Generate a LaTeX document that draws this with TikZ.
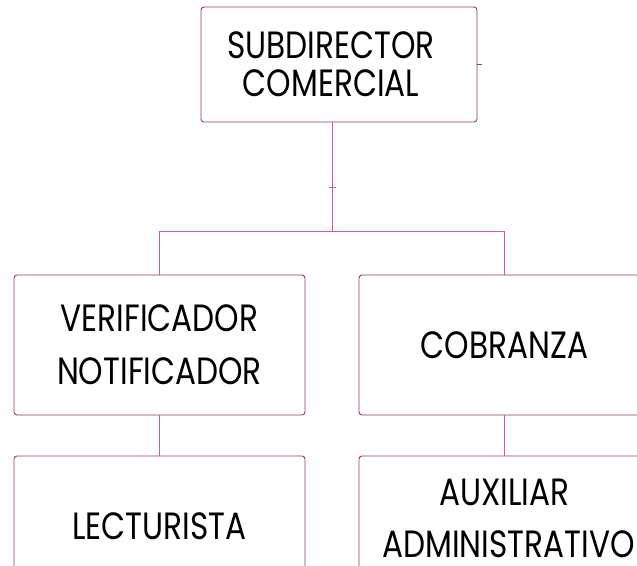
\documentclass[tikz,border=0pt]{standalone}
\usepackage{fontspec}
\newfontfamily\organigrama[FakeStretch=0.82]{Poppins}
\usetikzlibrary{positioning}
\definecolor{bordecaja}{RGB}{150,55,115}
\definecolor{lineaenlace}{RGB}{210,85,170}
\tikzset{
	puesto/.style={draw=bordecaja, line width=0.9pt, rounded corners=3pt, fill=white,
		align=center, minimum width=291pt, minimum height=140pt, inner sep=0pt,
		font=\organigrama\fontsize{38}{38}\selectfont},
	enlace/.style={draw=lineaenlace, line width=1pt},
}

\begin{document}
\begin{tikzpicture}[x=1pt,y=-1pt]
			%%%%% START %%%%%
			
			\clip (0,0) rectangle (637,565);
			\fill[white] (0,0) rectangle (637,565);
			
			\node[puesto, minimum width=276pt, minimum height=115pt] (subdir) at (339,64.5) {SUBDIRECTOR\kern16pt\\COMERCIAL\kern16pt};
			
			\node[puesto] (verif) at (159.5,345) {VERIFICADOR\\[15pt]NOTIFICADOR};
			\node[puesto] (cobra) at (504.5,345) {COBRANZA};
			
			\node[puesto] (lectu) at (159.5,526) {LECTURISTA};
			\node[puesto, minimum height=124pt] (auxil) at (504.5,518) {AUXILIAR\\[14pt]\kern8pt ADMINISTRATIVO};
			
			\coordinate (nudo) at (332,231);
			\draw[enlace] (subdir.south -| nudo) -- (nudo);
			\draw[enlace] (nudo) -| (verif.north);
			\draw[enlace] (nudo) -| (cobra.north);
			\draw[enlace] (verif) -- (lectu);
			\draw[enlace] (cobra) -- (auxil);
			
			\draw[enlace] (329,187) -- (336,187);
			\draw[draw=bordecaja, line width=0.9pt] (subdir.east) -- ++(5,0);
			
			%%%%% END %%%%%
\end{tikzpicture}
\end{document}
